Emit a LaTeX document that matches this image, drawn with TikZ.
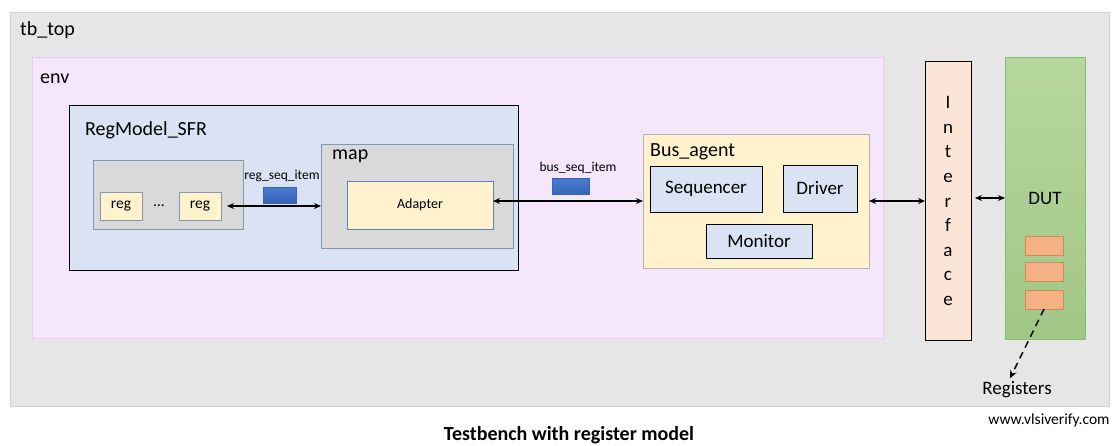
\documentclass[tikz,border=0pt]{standalone}
\usepackage{fontspec}
\setmainfont{Carlito}
\usetikzlibrary{arrows.meta, positioning, calc}
\definecolor{tbgray}{HTML}{E7E6E6}
\definecolor{tbedge}{HTML}{D8CDE2}
\definecolor{envfill}{HTML}{F5E6FC}
\definecolor{envedge}{HTML}{E8CDF3}
\definecolor{lightblue}{HTML}{DAE3F3}
\definecolor{midgray}{HTML}{D9D9D9}
\definecolor{slateedge}{HTML}{8497B0}
\definecolor{cream}{HTML}{FFF2CC}
\definecolor{adaptedge}{HTML}{5B7FC0}
\definecolor{pktblue}{HTML}{4A7BD0}
\definecolor{pktedge}{HTML}{3565B8}
\definecolor{peach}{HTML}{FBE5D6}
\definecolor{dutgreen}{HTML}{A9D18E}
\definecolor{dutedge}{HTML}{8CBB6C}
\definecolor{regorange}{HTML}{F4B183}
\definecolor{regedge}{HTML}{D08A55}

\begin{document}
\begin{tikzpicture}[x=1pt, y=-1pt,
  box/.style={draw, inner sep=0pt, outer sep=0pt},
  title/.style={anchor=west, inner sep=0pt, font=\fontsize{20}{23}\selectfont},
  biarrow/.style={{Stealth[length=7pt,width=6pt]}-{Stealth[length=7pt,width=6pt]}, line width=1.5pt},
  pkt/.style={box, draw=pktedge, top color=pktblue, bottom color=pktedge, minimum width=#1, minimum height=16pt},
  pktlabel/.style={inner sep=0pt, font=\fontsize{13.5}{15}\selectfont},
  smallreg/.style={box, draw=regedge, fill=regorange, minimum width=38pt, minimum height=19pt}]
  \useasboundingbox (0,0) rectangle (1114,445);

  % outer frames
  \node[box, draw=tbedge, fill=tbgray, minimum width=1099pt, minimum height=394pt] (tbtop) at (559.5,209) {};
  \node[title] (tbtoplbl) at (20,30) {tb\_top};
  \node[box, draw=envedge, fill=envfill, minimum width=851pt, minimum height=281pt] (env) at (457.5,197.5) {};
  \node[title] (envlbl) at (40,79) {env};

  % register model
  \node[box, fill=lightblue, line width=1pt, minimum width=449pt, minimum height=165pt] (regmodel) at (293.5,187.5) {};
  \node[title] (regmodellbl) at (85,130) {RegModel\_SFR};
  \node[box, draw=slateedge, fill=midgray, minimum width=150pt, minimum height=69pt] (reggroup) at (168,194.5) {};
  \node[box, draw=slateedge, fill=cream, minimum width=42pt, minimum height=28pt, font=\fontsize{15.5}{18}\selectfont] (regA) at (121,206) {reg};
  \node[box, draw=slateedge, fill=cream, minimum width=42pt, minimum height=28pt, font=\fontsize{15.5}{18}\selectfont] (regB) at (200,206) {reg};
  \node[font=\fontsize{15.5}{18}\selectfont] (dots) at (159,206) {\dots};
  \node[box, draw=slateedge, fill=midgray, minimum width=192pt, minimum height=104pt] (map) at (417,196) {};
  \node[title] (maplbl) at (332,156) {map};
  \node[box, draw=adaptedge, fill=cream, minimum width=146pt, minimum height=48pt, font=\fontsize{14}{16}\selectfont] (adapter) at (420,205) {Adapter};

  % sequence items
  \node[pkt=33pt] (regpkt) at (279.5,195) {};
  \node[pktlabel] (regpktlbl) at (282,176) {reg\_seq\_item};
  \node[pkt=37pt] (buspkt) at (570.5,186.5) {};
  \node[pktlabel] (buspktlbl) at (578,168) {bus\_seq\_item};

  % bus agent
  \node[box, draw=gray!60, fill=cream, minimum width=226pt, minimum height=134pt] (busagent) at (756,201) {};
  \node[title] (busagentlbl) at (650,152) {Bus\_agent};
  \node[box, fill=lightblue, minimum width=112pt, minimum height=46pt, font=\fontsize{19}{22}\selectfont] (sequencer) at (706,189) {Sequencer};
  \node[box, fill=lightblue, minimum width=74pt, minimum height=47pt, font=\fontsize{19}{22}\selectfont] (driver) at (820,188.5) {Driver};
  \node[box, fill=lightblue, minimum width=106pt, minimum height=34pt, font=\fontsize{19}{22}\selectfont] (monitor) at (759,241) {Monitor};

  % interface and DUT
  \node[box, fill=peach, minimum width=46pt, minimum height=279pt] (interface) at (948,200.5) {};
  \node[align=center, inner sep=0pt, font=\fontsize{19}{24.6}\selectfont] (iftext) at (948,201) {I\\n\\t\\e\\r\\f\\a\\c\\e};
  \node[box, draw=dutedge, top color=dutgreen!85!white, bottom color=dutgreen!95!black, minimum width=80pt, minimum height=282pt] (dut) at (1045,198) {};
  \node[font=\fontsize{19}{22}\selectfont] (dutlbl) at (1045,198) {DUT};
  \node[smallreg] (dreg1) at (1044,245.5) {};
  \node[smallreg] (dreg2) at (1044,271.5) {};
  \node[smallreg] (dreg3) at (1044,299.5) {};
  \node[font=\fontsize{19}{22}\selectfont] (regtext) at (1017,390) {Registers};

  % connectors
  \draw[biarrow, shorten <=6pt] (regB.east) -- (regB.east -| map.west);
  \draw[biarrow] (adapter.east |- busagent.west) -- (busagent.west);
  \draw[biarrow] (busagent.east) -- (busagent.east -| interface.west);
  \draw[biarrow, shorten <=4pt] (interface.east |- dutlbl) -- (dut.west |- dutlbl);
  \draw[-{Stealth[length=8pt,width=7pt]}, line width=1.5pt, dash pattern=on 7pt off 5pt] (dreg3.south) -- ([xshift=-7pt]regtext.north);

  % footer
  \node[font=\fontsize{15.5}{18}\selectfont] (web) at (1049,420) {www.vlsiverify.com};
  \node[font=\bfseries\fontsize{20}{23}\selectfont] (caption) at (569,435) {Testbench with register model};
\end{tikzpicture}
\end{document}
